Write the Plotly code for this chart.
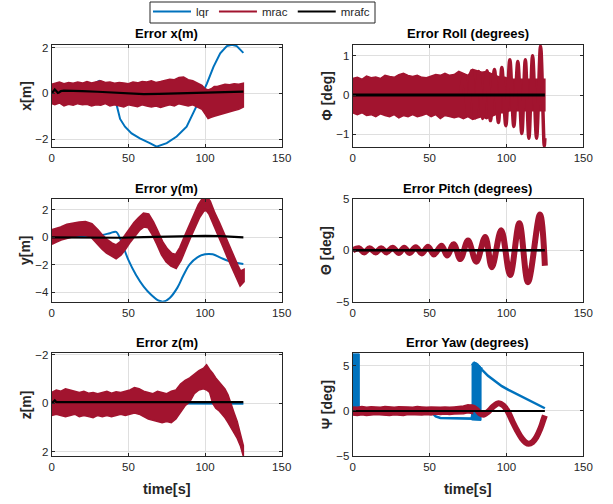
import plotly.graph_objects as go

BLUE = '#0072BD'
RED = '#A2142F'
BLACK = '#000000'
W, H = 613, 504

# ---------------- data ----------------
# Error x(m)
lqr_x_t = [0, 10, 20, 26, 31, 34, 37, 40, 42.5, 44.6, 47.8, 52.1, 57.5, 64, 68.4, 75, 81.5, 88, 92.4, 96.8, 101.2, 105.5, 109.9, 114.2, 117.5, 120.7, 125]
lqr_x_v = [0, 0.05, 0.15, 0.35, 0.55, 0.45, 0.2, -0.15, -0.55, -1.12, -1.46, -1.75, -1.97, -2.18, -2.33, -2.18, -1.89, -1.46, -0.88, -0.23, 0.43, 1.16, 1.75, 2.07, 2.13, 2.07, 1.77]
mrac_x_t = [0, 2, 5, 8, 11, 14, 17, 20, 23, 26, 29, 32, 35, 38, 41, 44, 47, 50, 53, 56, 59, 62, 65, 68, 71, 74, 77, 80, 83, 86, 89, 92, 95, 98, 100, 102, 104, 106, 108, 110, 113, 116, 119, 122, 125]
mrac_x_hi = [0.4, 0.45, 0.5, 0.42, 0.48, 0.44, 0.5, 0.45, 0.52, 0.46, 0.5, 0.55, 0.48, 0.5, 0.44, 0.48, 0.45, 0.42, 0.5, 0.46, 0.52, 0.5, 0.55, 0.48, 0.52, 0.58, 0.62, 0.6, 0.7, 0.72, 0.6, 0.55, 0.45, 0.35, 0.2, 0.15, 0.2, 0.3, 0.3, 0.35, 0.4, 0.38, 0.42, 0.4, 0.45]
mrac_x_lo = [-0.45, -0.5, -0.42, -0.55, -0.48, -0.52, -0.45, -0.5, -0.48, -0.55, -0.5, -0.52, -0.45, -0.55, -0.5, -0.55, -0.6, -0.5, -0.55, -0.58, -0.5, -0.55, -0.6, -0.55, -0.62, -0.55, -0.5, -0.55, -0.45, -0.5, -0.55, -0.5, -0.6, -0.7, -0.9, -1.1, -1.05, -1.0, -0.95, -0.9, -0.85, -0.8, -0.75, -0.7, -0.6]
mrafc_x_t = [0, 1, 2, 3, 4, 5, 6, 8, 10, 15, 20, 30, 40, 50, 60, 70, 80, 90, 100, 110, 125]
mrafc_x_v = [0, 0.1, 0.17, 0.1, 0.02, 0.05, 0.1, 0.12, 0.12, 0.1, 0.1, 0.07, 0.03, 0, -0.03, -0.02, 0, 0.03, 0.06, 0.08, 0.08]

# Error Roll (degrees)
lqr_roll_t = [0, 60, 125]
lqr_roll_v = [0.0, 0.02, 0.03]
mrac_roll_t = [0, 3, 6, 9, 12, 15, 18, 21, 24, 27, 30, 33, 36, 39, 42, 45, 48, 51, 54, 57, 60, 63, 66, 69, 72, 75, 78, 81, 84, 87, 90, 93, 96, 99, 102, 105, 108, 111, 114, 117, 120, 123, 125]
mrac_roll_hi = [0.42, 0.45, 0.4, 0.48, 0.44, 0.46, 0.42, 0.5, 0.47, 0.45, 0.52, 0.55, 0.5, 0.47, 0.5, 0.45, 0.44, 0.48, 0.52, 0.5, 0.55, 0.5, 0.52, 0.6, 0.55, 0.5, 0.65, 0.62, 0.58, 0.6, 0.55, 0.5, 0.45, 0.45, 0.4, 0.4, 0.4, 0.4, 0.4, 0.4, 0.4, 0.4, 0.4]
mrac_roll_lo = [-0.45, -0.5, -0.45, -0.52, -0.5, -0.55, -0.48, -0.52, -0.55, -0.5, -0.58, -0.52, -0.55, -0.5, -0.55, -0.52, -0.48, -0.55, -0.5, -0.6, -0.52, -0.55, -0.58, -0.55, -0.6, -0.55, -0.62, -0.58, -0.55, -0.6, -0.55, -0.5, -0.45, -0.45, -0.4, -0.4, -0.4, -0.4, -0.4, -0.4, -0.4, -0.4, -0.4]
mrac_roll_osc_t = [70, 72.5, 75, 77.2, 79.7, 82, 84.5, 87.3, 89.6, 92.2, 94.8, 97, 99.6, 102.2, 104.8, 107.4, 110, 112.3, 114.6, 117, 119.6, 122.2, 124.6, 125]
mrac_roll_osc_v = [0, 0.5, -0.5, 0.62, -0.58, 0.6, -0.6, 0.62, -0.65, 0.65, -0.7, 0.7, -0.78, 0.9, -0.8, 0.85, -0.98, 0.9, -1.1, 1.0, -1.1, 1.25, -1.3, -1.1]
mrafc_roll_t = [0, 125]
mrafc_roll_v = [0, 0]

# Error y(m)
lqr_y_t = [0, 10, 20, 30, 33, 38, 42, 45, 50, 55, 60, 65, 70, 73, 77, 82, 86, 90, 95, 100, 105, 110, 115, 120, 125]
lqr_y_v = [0, 0.05, 0.1, 0.12, 0.17, 0.3, 0.4, -0.2, -1.64, -2.73, -3.57, -4.18, -4.6, -4.66, -4.4, -3.65, -2.73, -1.96, -1.45, -1.23, -1.23, -1.47, -1.71, -1.84, -1.93]
mrac_y_t = [0, 3, 6, 10, 14, 18, 22, 26, 30, 33, 36, 39, 42, 45, 48, 51, 54, 57, 60, 63, 66, 69, 72, 75, 78, 81, 84, 87, 90, 93, 96, 99, 101, 103, 106, 109, 112, 115, 118, 121, 123, 125]
mrac_y_hi = [0.5, 0.6, 0.7, 0.9, 1.0, 1.05, 1.1, 0.95, 0.5, 0.1, -0.2, -0.45, -0.6, -0.35, 0.1, 0.6, 1.05, 1.4, 1.7, 1.65, 1.1, 0.4, -0.35, -0.85, -1.2, -1.3, -0.75, 0.05, 0.85, 1.65, 2.35, 2.85, 2.9, 2.6, 1.75, 1.05, 0.25, -0.55, -1.35, -2.05, -2.5, -2.4]
mrac_y_lo = [-0.45, -0.3, -0.15, 0.0, 0.1, 0.2, 0.2, 0.05, -0.4, -0.8, -1.1, -1.3, -1.5, -1.25, -0.8, -0.3, 0.15, 0.55, 0.8, 0.75, 0.2, -0.5, -1.25, -1.75, -2.05, -2.2, -1.65, -0.85, -0.05, 0.75, 1.45, 1.95, 2.0, 1.7, 0.85, 0.15, -0.65, -1.45, -2.25, -2.95, -3.45, -3.2]
mrafc_y_t = [0, 15, 30, 45, 60, 75, 90, 100, 110, 125]
mrafc_y_v = [0.0, -0.02, -0.05, -0.03, 0.02, 0.07, 0.1, 0.1, 0.08, 0.0]

# Error Pitch (degrees)
lqr_pitch_t = [0, 125]
lqr_pitch_v = [0, 0]
mrac_pitch_t = [0, 4, 7.5, 11, 15, 18.5, 22, 26, 30, 33.5, 37, 41, 45, 49, 52.8, 57.8, 61.4, 65.7, 70, 75, 80.4, 86.2, 90.5, 96.6, 102.4, 108.4, 114, 121.8, 125]
mrac_pitch_v = [0, 0.2, -0.2, 0.2, -0.2, 0.2, -0.2, 0.25, -0.25, 0.25, -0.25, 0.3, -0.3, 0.35, -0.4, 0.45, -0.5, 0.6, -0.85, 0.95, -1.1, 1.3, -1.65, 1.95, -2.4, 2.65, -3.1, 3.5, -1.5]
mrafc_pitch_t = [0, 125]
mrafc_pitch_v = [0, 0]

# Error z(m)  (axis reversed)
lqr_z_t = [0, 30, 60, 90, 125]
lqr_z_v = [0.0, 0.01, 0.01, 0.02, 0.02]
mrac_z_t = [0, 3, 6, 9, 12, 15, 18, 21, 24, 27, 30, 33, 36, 39, 42, 45, 48, 51, 54, 57, 60, 63, 66, 69, 72, 75, 78, 81, 84, 87, 90, 93, 96, 99, 101, 103, 105, 107, 109, 111, 113, 115, 117, 119, 121, 123, 125]
mrac_z_lo = [-0.45, -0.55, -0.5, -0.6, -0.55, -0.5, -0.45, -0.5, -0.42, -0.45, -0.4, -0.45, -0.5, -0.42, -0.48, -0.45, -0.5, -0.55, -0.65, -0.6, -0.5, -0.45, -0.4, -0.5, -0.45, -0.4, -0.5, -0.55, -0.8, -0.95, -1.05, -1.2, -1.35, -1.45, -1.6, -1.4, -1.25, -1.05, -0.9, -0.75, -0.6, -0.35, 0.0, 0.4, 0.75, 1.2, 1.75]
mrac_z_hi = [0.5, 0.45, 0.5, 0.55, 0.5, 0.45, 0.55, 0.5, 0.55, 0.6, 0.5, 0.55, 0.5, 0.55, 0.5, 0.45, 0.5, 0.45, 0.4, 0.45, 0.55, 0.65, 0.7, 0.75, 0.8, 0.75, 0.8, 0.65, 0.35, 0.1, -0.05, -0.4, -0.55, -0.6, -0.55, -0.45, 0.0, 0.2, 0.3, 0.45, 0.6, 0.8, 1.0, 1.2, 1.45, 1.75, 2.2]
mrafc_z_t = [0, 1, 2, 3, 5, 10, 30, 60, 90, 125]
mrafc_z_v = [0, -0.08, -0.12, -0.05, -0.05, -0.05, -0.05, -0.05, -0.05, -0.05]

# Error Yaw (degrees)
lqr_yaw_t = [0, 4.3, 10, 20, 30, 40, 48, 51.7, 54, 57, 60, 65, 70, 77.3, 83.5, 84, 88, 92.7, 97, 101.3, 106, 112, 118, 124, 125]
lqr_yaw_v = [0, 0, 0.02, 0.02, 0, 0.02, 0, -0.2, -0.6, -0.78, -0.8, -0.82, -0.82, -0.85, 4.8, 4.6, 3.9, 3.25, 2.75, 2.35, 1.95, 1.45, 0.95, 0.4, 0.3]
lqr_yaw_blk1_t = [0, 1, 2, 3, 4.3]
lqr_yaw_blk1_hi = [6.35, 6.35, 6.35, 6.35, 6.35]
lqr_yaw_blk1_lo = [-0.3, -0.3, -0.3, -0.3, -0.3]
lqr_yaw_blk2_t = [77.3, 78, 79, 80, 81, 82, 83.5]
lqr_yaw_blk2_hi = [5.1, 5.35, 5.45, 5.4, 5.3, 5.15, 4.85]
lqr_yaw_blk2_lo = [-1.0, -1.0, -1.0, -1.0, -1.0, -1.05, -1.05]
mrac_yaw_t = [0, 3, 6, 9, 12, 15, 18, 21, 24, 27, 30, 33, 36, 39, 42, 45, 48, 51, 54, 57, 60, 63, 66, 69, 72, 75, 78]
mrac_yaw_hi = [0.45, 0.4, 0.5, 0.42, 0.48, 0.45, 0.4, 0.5, 0.45, 0.42, 0.48, 0.5, 0.45, 0.42, 0.5, 0.45, 0.4, 0.45, 0.42, 0.4, 0.45, 0.4, 0.45, 0.5, 0.55, 0.7, 0.6]
mrac_yaw_lo = [-0.45, -0.5, -0.42, -0.5, -0.45, -0.4, -0.48, -0.45, -0.5, -0.42, -0.45, -0.5, -0.4, -0.45, -0.42, -0.45, -0.4, -0.45, -0.35, -0.4, -0.35, -0.4, -0.35, -0.3, -0.3, -0.2, -0.3]
mrac_yaw_osc_t = [72, 75, 77.5, 80.5, 83, 85.5, 88, 91.5, 95, 98, 101, 104, 107, 110, 112.5, 114.5, 117, 119.5, 122, 124, 125]
mrac_yaw_osc_v = [0.1, 0.3, 0.4, 0.15, -0.3, -0.4, -0.1, 0.5, 0.85, 0.6, -0.1, -1.2, -2.2, -3.05, -3.5, -3.65, -3.45, -2.9, -2.0, -1.0, -0.5]
mrafc_yaw_t = [0, 125]
mrafc_yaw_v = [0, 0]

titles = ['Error x(m)', 'Error Roll (degrees)', 'Error y(m)', 'Error Pitch (degrees)', 'Error z(m)', 'Error Yaw (degrees)']
ylabels = ['x[m]', 'Φ [deg]', 'y[m]', 'Θ [deg]', 'z[m]', 'Ψ [deg]']
xticks = [0, 50, 100, 150]
yticks = [[-2, 0, 2], [-1, 0, 1], [-4, -2, 0, 2], [-5, 0, 5], [-2, 0, 2], [-5, 0, 5]]
yranges = [[-2.36, 2.13], [-1.33, 1.28], [-4.67, 2.78], [-5, 5], [2.18, -2.07], [-5, 6.4]]
legend_names = ['lqr', 'mrac', 'mrafc']

# ---------------- layout geometry (pixels) ----------------
col_x = [(51.7, 281.7), (352.7, 583.3)]
row_y = [(44.7, 147.3), (199.0, 301.7), (353.3, 456.0)]
legend_box = (150, 2, 375, 23)

fig = go.Figure()


def ax_names(i):
    s = '' if i == 0 else str(i + 1)
    return 'x' + s, 'y' + s


def line(i, t, v, color, width, shape='linear'):
    xa, ya = ax_names(i)
    fig.add_trace(go.Scatter(x=t, y=v, mode='lines', line=dict(color=color, width=width, shape=shape),
                             xaxis=xa, yaxis=ya, showlegend=False, hoverinfo='skip'))


def band(i, t, lo, hi, color, width=1.5):
    xa, ya = ax_names(i)
    xs = list(t) + list(t)[::-1]
    ys = list(hi) + list(lo)[::-1]
    fig.add_trace(go.Scatter(x=xs, y=ys, mode='lines', fill='toself', fillcolor=color,
                             line=dict(color=color, width=width), xaxis=xa, yaxis=ya,
                             showlegend=False, hoverinfo='skip'))


# panel 0: x
line(0, lqr_x_t, lqr_x_v, BLUE, 2)
band(0, mrac_x_t, mrac_x_lo, mrac_x_hi, RED)
line(0, mrafc_x_t, mrafc_x_v, BLACK, 2.2)
# panel 1: roll
line(1, lqr_roll_t, lqr_roll_v, BLUE, 2)
band(1, mrac_roll_t, mrac_roll_lo, mrac_roll_hi, RED)
line(1, mrac_roll_osc_t, mrac_roll_osc_v, RED, 3.5, 'spline')
line(1, mrafc_roll_t, mrafc_roll_v, BLACK, 3)
# panel 2: y
line(2, lqr_y_t, lqr_y_v, BLUE, 2, 'spline')
band(2, mrac_y_t, mrac_y_lo, mrac_y_hi, RED, 3)
line(2, mrafc_y_t, mrafc_y_v, BLACK, 2.2)
# panel 3: pitch
line(3, lqr_pitch_t, lqr_pitch_v, BLUE, 2)
line(3, mrac_pitch_t, mrac_pitch_v, RED, 6, 'spline')
line(3, mrafc_pitch_t, mrafc_pitch_v, BLACK, 2.5)
# panel 4: z
line(4, lqr_z_t, lqr_z_v, BLUE, 2)
band(4, mrac_z_t, mrac_z_lo, mrac_z_hi, RED)
line(4, mrafc_z_t, mrafc_z_v, BLACK, 2.2)
# panel 5: yaw
band(5, lqr_yaw_blk1_t, lqr_yaw_blk1_lo, lqr_yaw_blk1_hi, BLUE, 1)
band(5, lqr_yaw_blk2_t, lqr_yaw_blk2_lo, lqr_yaw_blk2_hi, BLUE, 1)
line(5, lqr_yaw_t, lqr_yaw_v, BLUE, 2.5)
band(5, mrac_yaw_t, mrac_yaw_lo, mrac_yaw_hi, RED)
line(5, mrac_yaw_osc_t, mrac_yaw_osc_v, RED, 6, 'spline')
line(5, mrafc_yaw_t, mrafc_yaw_v, BLACK, 2)

# legend entries
for name, color in zip(legend_names, [BLUE, RED, BLACK]):
    fig.add_trace(go.Scatter(x=[None], y=[None], mode='lines', name=name,
                             line=dict(color=color, width=2), showlegend=True))

AXC = '#262626'
GRID = '#dfdfdf'
FONT = 'Liberation Sans, Arial, Helvetica, sans-serif'
lx0, ly0, lx1, ly1 = legend_box
layout = dict(width=W, height=H, margin=dict(l=0, r=0, t=0, b=0, pad=0, autoexpand=False),
              paper_bgcolor='white', plot_bgcolor='white',
              font=dict(family=FONT, color=AXC, size=11.5),
              legend=dict(orientation='h', x=(lx0 - 2) / W, y=1 + 3 / H, xanchor='left', yanchor='top',
                          bgcolor='rgba(0,0,0,0)', borderwidth=0, itemwidth=38,
                          font=dict(size=11.5, color=AXC), tracegroupgap=0),
              shapes=[dict(type='rect', xref='paper', yref='paper', x0=lx0 / W, x1=lx1 / W,
                           y0=1 - ly1 / H, y1=1 - ly0 / H, line=dict(color=AXC, width=1),
                           fillcolor='white', layer='above')])
annotations = []
for i in range(6):
    r, c = divmod(i, 2)
    x0, x1 = col_x[c]
    y0, y1 = row_y[r]
    s = '' if i == 0 else str(i + 1)
    common = dict(showline=True, linecolor=AXC, linewidth=1, mirror='ticks', ticks='inside',
                  ticklen=3, tickcolor=AXC, showgrid=True, gridcolor=GRID, gridwidth=1,
                  zeroline=False, automargin=False, tickfont=dict(size=11.5, color=AXC))
    layout['xaxis' + s] = dict(domain=[x0 / W, x1 / W], range=[0, 150], tickvals=xticks,
                               anchor='y' + s, **common)
    layout['yaxis' + s] = dict(domain=[1 - y1 / H, 1 - y0 / H], range=yranges[i], tickvals=yticks[i],
                               anchor='x' + s, **common)
    cx = (x0 + x1) / 2
    annotations.append(dict(text='<b>%s</b>' % titles[i], x=cx / W, y=1 - (y0 - 11) / H,
                            xref='paper', yref='paper', showarrow=False, xanchor='center', yanchor='middle',
                            font=dict(size=13, color='black', family=FONT)))
    annotations.append(dict(text='<b>%s</b>' % ylabels[i], x=(x0 - 26) / W, y=1 - ((y0 + y1) / 2) / H,
                            xref='paper', yref='paper', showarrow=False, xanchor='center', yanchor='middle',
                            textangle=-90, font=dict(size=14, color=AXC, family=FONT)))
    if r == 2:
        annotations.append(dict(text='<b>time[s]</b>', x=cx / W, y=1 - 489 / H,
                                xref='paper', yref='paper', showarrow=False, xanchor='center', yanchor='middle',
                                font=dict(size=14.5, color=AXC, family=FONT)))
layout['annotations'] = annotations
fig.update_layout(**layout)
fig.write_html('out.html')
